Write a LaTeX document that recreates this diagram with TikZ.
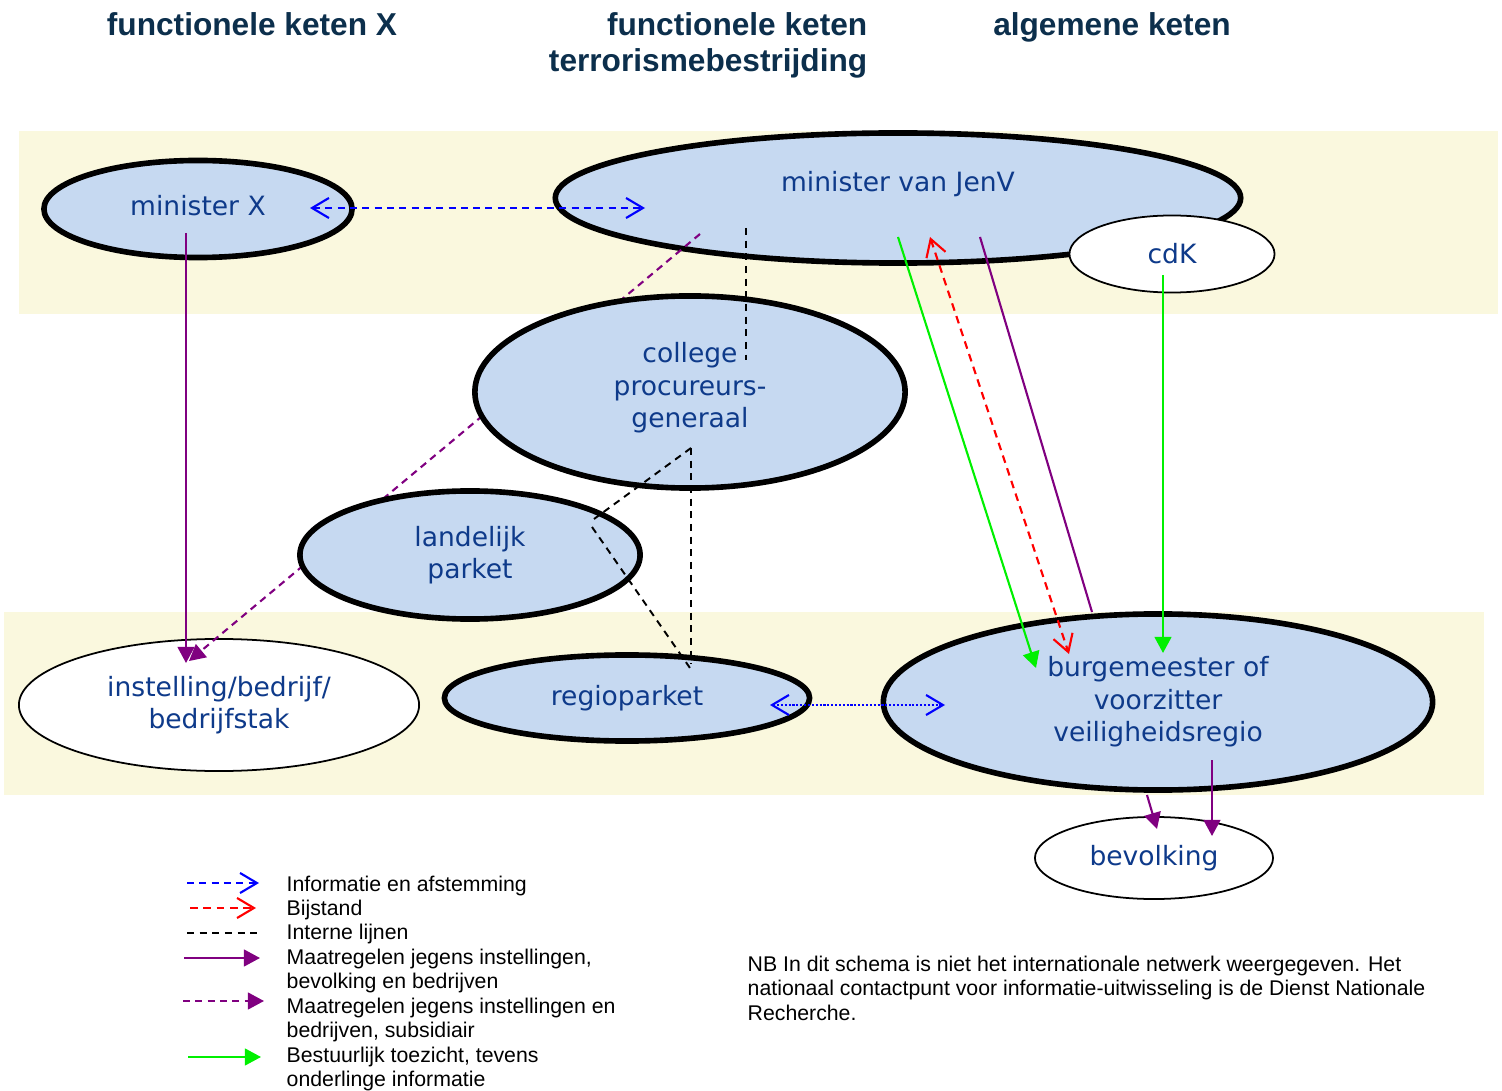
\documentclass[tikz,border=0pt]{standalone}
\usepackage{fontspec}
\setmainfont{Liberation Sans}
\newfontfamily\ketenfont{DejaVu Sans}
\usetikzlibrary{positioning, arrows.meta, shapes.geometric}
\definecolor{band}{RGB}{250,248,222}
\definecolor{ketenblauw}{RGB}{198,217,241}
\definecolor{ketentekst}{RGB}{14,58,138}
\definecolor{koptekst}{RGB}{12,47,76}
\definecolor{paars}{RGB}{128,0,128}
\definecolor{groen}{RGB}{0,240,0}
\tikzset{
  pijl/.tip={Straight Barb[length=4.8pt,width=5.7pt]},
  punt/.tip={Triangle[length=4.6pt,width=4.8pt]},
  keten/.style={ellipse, draw, line width=1.6pt, fill=ketenblauw, inner sep=0pt,
    text=ketentekst, align=center, font=\ketenfont\fontsize{7.55}{9.25}\selectfont},
  buiten/.style={keten, fill=white, line width=0.5pt},
  kop/.style={inner sep=0pt, anchor=north, text=koptekst,
    font=\bfseries\fontsize{9.0}{10.2}\selectfont},
  legenda/.style={inner sep=0pt, anchor=north west, align=left,
    font=\fontsize{6.05}{6.97}\selectfont},
  info/.style={blue, line width=0.6pt, dash pattern=on 2pt off 1.5pt, pijl-pijl},
  bijstand/.style={red, line width=0.6pt, dash pattern=on 2.2pt off 1.6pt, pijl-pijl},
  intern/.style={black, line width=0.55pt, dash pattern=on 2pt off 1.6pt},
  maatregel/.style={paars, line width=0.6pt, -punt},
  subsidiair/.style={maatregel, dash pattern=on 2pt off 1.5pt},
  toezicht/.style={groen, line width=0.6pt, -punt},
  overleg/.style={blue, line width=0.6pt, dash pattern=on 0.6pt off 0.5pt, pijl-pijl}
}

\begin{document}
\begin{tikzpicture}[x=0.01cm, y=-0.01cm]
    \useasboundingbox (0,0) rectangle (1502,1091);
    % banden
    \fill[band] (19,131) rectangle (1498,314);
    \fill[band] (4,612) rectangle (1484,795);

    % koppen
    \node[kop] (kopx) at (252,12) {functionele keten X};
    \node[kop, anchor=north east, align=right] (kopterr) at (868,12) {functionele keten\\terrorismebestrijding};
    \node[kop] (kopalg) at (1112,12) {algemene keten};

    \node[keten, minimum width=3.08cm, minimum height=0.97cm, text depth=0.08cm] (mx) at (198,209) {minister X};
    \node[keten, minimum width=6.85cm, minimum height=1.30cm, text depth=0.34cm] (jenv) at (898,198) {minister van JenV};
    \node[buiten, minimum width=2.05cm, minimum height=0.77cm] (cdk) at (1172,254) {cdK};
    \node[buiten, minimum width=4.0cm, minimum height=1.32cm] (inst) at (219,705) {instelling/bedrijf/\\bedrijfstak};

    \coordinate (jenv-sub) at (700,234);
    \coordinate (inst-sub) at (189,661);
    \draw[subsidiair] (jenv-sub) -- (inst-sub);

    \node[keten, minimum width=4.30cm, minimum height=1.92cm, text depth=0.14cm] (college) at (690,392) {college\\procureurs-\\generaal};
    \node[keten, minimum width=3.40cm, minimum height=1.28cm] (landelijk) at (470,555) {landelijk\\parket};
    \node[keten, minimum width=3.65cm, minimum height=0.86cm] (regio) at (627,698) {regioparket};
    \node[keten, minimum width=5.49cm, minimum height=1.76cm] (burg) at (1158,702) {burgemeester of\\voorzitter\\veiligheidsregio};
    \node[buiten, minimum width=2.38cm, minimum height=0.82cm] (bevolking) at (1154,858) {bevolking};

    % aanknopingspunten
    \coordinate (mx-uit) at (186,233);
    \coordinate (inst-in) at (186,663);
    \coordinate (mx-info) at (310,208);
    \coordinate (jenv-info) at (645,208);
    \coordinate (jenv-bij) at (930,237);
    \coordinate (burg-bij) at (1069,654);
    \coordinate (jenv-toe) at (898,237);
    \coordinate (burg-toe) at (1036,668);
    \coordinate (cdk-toe) at (1163,275);
    \coordinate (burg-cdk) at (1163,653);
    \coordinate (jenv-maat) at (980,237);
    \coordinate (burg-maat) at (1092,612);
    \coordinate (burg-uit1) at (1147,795);
    \coordinate (bev-in1) at (1157,829);
    \coordinate (burg-uit2) at (1212,760);
    \coordinate (bev-in2) at (1212,836);
    \coordinate (regio-ov) at (770,705);
    \coordinate (burg-ov) at (945,705);
    \coordinate (jenv-int) at (746,228);
    \coordinate (college-int) at (746,360);
    \coordinate (college-top) at (691,448);
    \coordinate (land-in) at (594,519);
    \coordinate (land-uit) at (592,527);
    \coordinate (regio-int) at (690,668);
    \coordinate (regio-int2) at (691,664);

    \draw[maatregel] (mx-uit) -- (inst-in);
    \draw[info] (mx-info) -- (jenv-info);
    \draw[bijstand] (jenv-bij) -- (burg-bij);
    \draw[toezicht] (jenv-toe) -- (burg-toe);
    \draw[toezicht] (cdk-toe) -- (burg-cdk);
    \draw[maatregel, -] (jenv-maat) -- (burg-maat);
    \draw[maatregel] (burg-uit1) -- (bev-in1);
    \draw[maatregel] (burg-uit2) -- (bev-in2);
    \draw[overleg] (regio-ov) -- (burg-ov);
    \draw[intern] (jenv-int) -- (college-int);
    \draw[intern] (college-top) -- (land-in);
    \draw[intern] (land-uit) -- (regio-int);
    \draw[intern] (college-top) -- (regio-int2);

    % legenda
    \node[legenda] (leg-info) at (286,875) {Informatie en afstemming};
    \node[legenda] (leg-bij) at (286,899) {Bijstand};
    \node[legenda] (leg-int) at (286,923) {Interne lijnen};
    \node[legenda] (leg-maat) at (286,948) {Maatregelen jegens instellingen,\\bevolking en bedrijven};
    \node[legenda] (leg-sub) at (286,997) {Maatregelen jegens instellingen en\\bedrijven, subsidiair};
    \node[legenda] (leg-toe) at (286,1046) {Bestuurlijk toezicht, tevens\\onderlinge informatie};
    \node[legenda] (nb) at (747,955) {NB In dit schema is niet het internationale netwerk weergegeven. Het\\nationaal contactpunt voor informatie-uitwisseling is de Dienst Nationale\\Recherche.};

    \foreach \n/\xa/\xb/\y in {1/187/259/883, 2/190/256/908, 3/187/258/933, 4/184/260/958, 5/183/264/1001, 6/188/261/1057} {
      \coordinate (leg\n a) at (\xa,\y);
      \coordinate (leg\n b) at (\xb,\y);
    }
    \draw[info, -pijl] (leg1a) -- (leg1b);
    \draw[bijstand, -pijl] (leg2a) -- (leg2b);
    \draw[intern] (leg3a) -- (leg3b);
    \draw[maatregel] (leg4a) -- (leg4b);
    \draw[subsidiair] (leg5a) -- (leg5b);
    \draw[toezicht] (leg6a) -- (leg6b);
\end{tikzpicture}
\end{document}
